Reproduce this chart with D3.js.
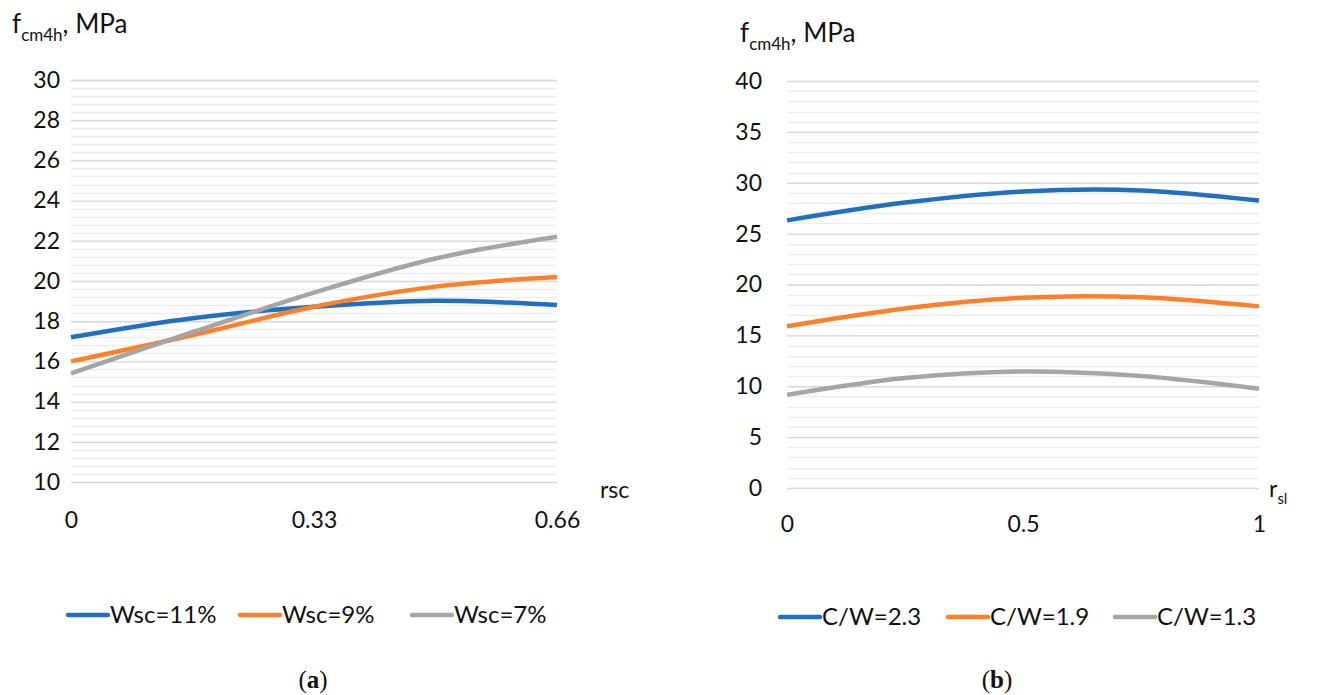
<!DOCTYPE html>
<html>
<head>
<meta charset="utf-8">
<script src="https://cdn.jsdelivr.net/npm/d3@7"></script>
<style>
  html, body { margin: 0; padding: 0; background: #fff; }
  svg { display: block; font-family: Lato, "Open Sans", sans-serif; }
</style>
</head>
<body>
<svg id="chart" width="1333" height="695"></svg>
<script>
// ---- Data: panel (a) ----
const xA = [0, 0.165, 0.33, 0.495, 0.66];
const xTicksA = [0, 0.33, 0.66];
const xTickLabelsA = ["0", "0.33", "0.66"];
const seriesNamesA = ["Wsc=11%", "Wsc=9%", "Wsc=7%"];
const wsc11 = [17.2, 18.15, 18.72, 19.02, 18.8];
const wsc9  = [16.0, 17.3, 18.72, 19.72, 20.2];
const wsc7  = [15.4, 17.45, 19.42, 21.12, 22.2];
const yTicksA = [10, 12, 14, 16, 18, 20, 22, 24, 26, 28, 30];

// ---- Data: panel (b) ----
const xB = [0, 0.25, 0.5, 0.75, 1];
const xTicksB = [0, 0.5, 1];
const xTickLabelsB = ["0", "0.5", "1"];
const seriesNamesB = ["C/W=2.3", "C/W=1.9", "C/W=1.3"];
const cw23 = [26.3, 28.05, 29.15, 29.25, 28.25];
const cw19 = [15.9, 17.65, 18.7, 18.75, 17.85];
const cw13 = [9.15, 10.8, 11.45, 11.0, 9.75];
const yTicksB = [0, 5, 10, 15, 20, 25, 30, 35, 40];

const colors = ["#1f70c1", "#fd7f28", "#a5a5a5"];

const svg = d3.select("#chart");

function panel(cfg) {
  const g = svg.append("g");
  const x = d3.scaleLinear().domain(cfg.xDomain).range([cfg.x0, cfg.x1]);
  const y = d3.scaleLinear().domain(cfg.yDomain).range([cfg.yb, cfg.yt]);

  // minor gridlines
  const minors = d3.range(cfg.yDomain[0], cfg.yDomain[1] + 1e-9, cfg.minor);
  g.append("g").selectAll("line").data(minors).join("line")
    .attr("x1", cfg.x0).attr("x2", cfg.x1)
    .attr("y1", d => Math.round(y(d)) + 0.5).attr("y2", d => Math.round(y(d)) + 0.5)
    .attr("stroke", "#ededed").attr("stroke-width", 1.4);

  // major gridlines + y labels via axis
  const yAxis = d3.axisLeft(y).tickValues(cfg.yTicks).tickSize(-(cfg.x1 - cfg.x0)).tickPadding(12);
  const ya = g.append("g").attr("transform", `translate(${cfg.x0},0)`).call(yAxis);
  ya.select(".domain").remove();
  ya.selectAll(".tick line").attr("stroke", "#d9d9d9").attr("stroke-width", 1.4);
  ya.selectAll(".tick text").attr("font-size", 23).attr("fill", "#111")
    .attr("font-family", "Lato, sans-serif").attr("x", cfg.yLabelX - cfg.x0);

  // x axis labels
  const xAxis = d3.axisBottom(x).tickValues(cfg.xTicks)
    .tickFormat((d, i) => cfg.xTickLabels[i]).tickSize(0).tickPadding(0);
  const xa = g.append("g").attr("transform", `translate(0,${cfg.xLabelY})`).call(xAxis);
  xa.select(".domain").remove();
  xa.selectAll(".tick text").attr("font-size", 23).attr("fill", "#111")
    .attr("font-family", "Lato, sans-serif").attr("dy", "0.35em");

  // lines
  const line = d3.line().x(d => x(d[0])).y(d => y(d[1])).curve(d3.curveCatmullRom.alpha(0.5));
  cfg.series.forEach((s, i) => {
    g.append("path").datum(cfg.xs.map((xv, j) => [xv, s[j]]))
      .attr("d", line).attr("fill", "none").attr("stroke", colors[i])
      .attr("stroke-width", 4.5).attr("stroke-linecap", "butt");
  });

  // y title
  const t = g.append("text").attr("x", cfg.titleX).attr("y", cfg.titleY)
    .attr("font-size", 26).attr("fill", "#111");
  t.append("tspan").text("f");
  t.append("tspan").attr("font-size", 17).attr("dy", 8).text("cm4h");
  t.append("tspan").attr("dy", -8).text(", MPa");

  // x title
  const xt = g.append("text").attr("x", cfg.xTitleX).attr("y", cfg.xTitleY)
    .attr("font-size", 23).attr("fill", "#111");
  xt.append("tspan").text(cfg.xTitle[0]);
  if (cfg.xTitle[1]) xt.append("tspan").attr("font-size", 15).attr("dy", 7).text(cfg.xTitle[1]);

  // legend
  cfg.names.forEach((n, i) => {
    const lx = cfg.legendX[i];
    g.append("line").attr("x1", lx).attr("x2", lx + 40)
      .attr("y1", cfg.legendY).attr("y2", cfg.legendY)
      .attr("stroke", colors[i]).attr("stroke-width", 4.5).attr("stroke-linecap", "round");
    g.append("text").attr("x", lx + 42).attr("y", cfg.legendY).attr("dy", "0.35em")
      .attr("font-size", 24).attr("fill", "#111").text(n);
  });

  // caption
  const c = g.append("text").attr("x", cfg.capX).attr("y", 688).attr("text-anchor", "middle")
    .attr("font-family", "'Liberation Serif', 'DejaVu Serif', serif").attr("font-size", 25).attr("fill", "#111");
  c.append("tspan").text("(");
  c.append("tspan").attr("font-weight", "bold").text(cfg.capLetter);
  c.append("tspan").text(")");
}

panel({
  xDomain: [0, 0.66], yDomain: [10, 30], x0: 71, x1: 557, yb: 482, yt: 80,
  minor: 0.4, yTicks: yTicksA, yLabelX: 60, xTicks: xTicksA, xTickLabels: xTickLabelsA, xLabelY: 520,
  xs: xA, series: [wsc11, wsc9, wsc7], names: seriesNamesA,
  titleX: 12, titleY: 33, xTitle: ["rsc"], xTitleX: 600, xTitleY: 498,
  legendX: [68, 240, 412], legendY: 615, capX: 313, capLetter: "a"
});

panel({
  xDomain: [0, 1], yDomain: [0, 40], x0: 787, x1: 1259, yb: 488, yt: 81,
  minor: 1, yTicks: yTicksB, yLabelX: 762, xTicks: xTicksB, xTickLabels: xTickLabelsB, xLabelY: 524,
  xs: xB, series: [cw23, cw19, cw13], names: seriesNamesB,
  titleX: 740, titleY: 42, xTitle: ["r", "sl"], xTitleX: 1269, xTitleY: 497,
  legendX: [780, 948, 1115], legendY: 617, capX: 997, capLetter: "b"
});
</script>
</body>
</html>
